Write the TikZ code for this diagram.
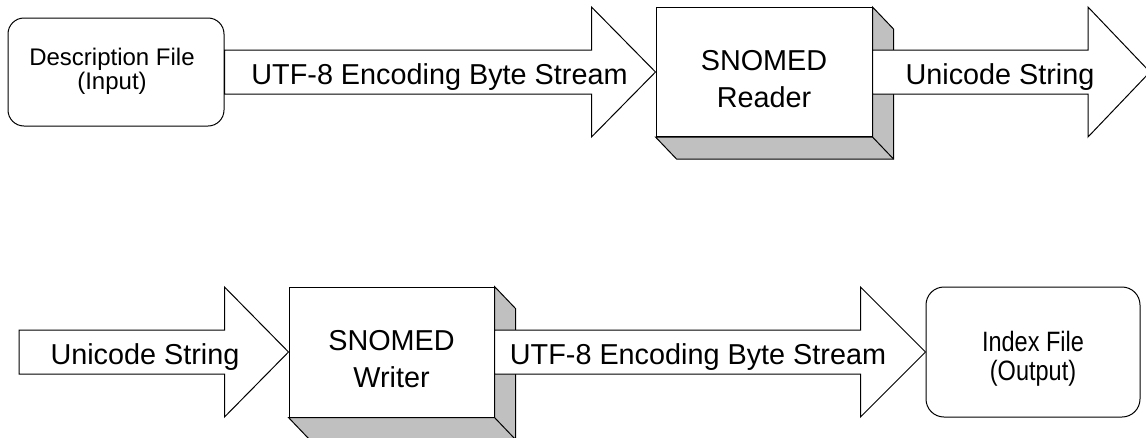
\documentclass[tikz,border=0pt]{standalone}
\usepackage{fontspec}
\setmainfont{Liberation Sans}
\newfontfamily\narrowfont{Liberation Sans}[FakeStretch=0.84]
\usetikzlibrary{calc}
\definecolor{shadegray}{RGB}{192,192,192}
\tikzset{
  outline/.style={draw=black, line width=1pt, fill=white, line join=miter},
  filebox/.style={outline, rounded corners=16pt, minimum width=216pt, minimum height=108pt, inner sep=0pt},
  procbox/.style={outline, minimum height=129pt, inner sep=0pt},
  shadeface/.style={draw=black, line width=1pt, fill=shadegray, line join=miter},
  bigtext/.style={font=\fontsize{28.8}{36.6}\selectfont, anchor=base, align=center, inner sep=0pt},
  desctext/.style={font=\fontsize{24}{23.6}\selectfont, anchor=base, align=center, inner sep=0pt},
  indextext/.style={font=\narrowfont\fontsize{28}{28.3}\selectfont, anchor=base, align=center, inner sep=0pt}
}
\newcommand\blockarrow[3]{%
  \draw[outline] ($(#1)+(0,-22)$) -- ($(#2)+(-#3,-22)$) -- ($(#2)+(-#3,-65)$) -- (#2)
    -- ($(#2)+(-#3,65)$) -- ($(#2)+(-#3,22)$) -- ($(#1)+(0,22)$) -- cycle;}
\newcommand\depthfaces[1]{%
  \draw[shadeface] (#1.north east) -- ++(21,22) -- ($(#1.south east)+(21,22)$)
    -- ($(#1.south west)+(21,22)$) -- (#1.south west) -- (#1.south east) -- cycle;
  \draw[line width=1pt] (#1.south east) -- ++(21,22);}
\begin{document}
\begin{tikzpicture}[x=1pt,y=-1pt]
\useasboundingbox[fill=white] (0,0) rectangle (1146,437);
% top row
\node[filebox] (desc) at (116,72) {};
\node[procbox, minimum width=216pt] (reader) at (764,72) {};
\depthfaces{reader}
\coordinate (toptip) at (1150,72);
\blockarrow{desc.east}{reader.west}{64}
\blockarrow{reader.east}{toptip}{62}
% bottom row
\node[procbox, minimum width=205pt, minimum height=130pt] (writer) at (391.5,352) {};
\depthfaces{writer}
\node[filebox, rounded corners=18pt, minimum width=214pt, minimum height=130pt] (index) at (1033,352) {};
\coordinate (botstart) at (19,352);
\blockarrow{botstart}{writer.west}{64}
\blockarrow{writer.east}{index.west}{65}
% texts (base anchor = baseline of the last line)
\node[desctext] (desctxt) at (112,89.5) {Description File\\(Input)};
\node[bigtext] (utftop) at (439.5,84) {UTF-8 Encoding Byte Stream};
\node[bigtext] (readertxt) at (764,107) {SNOMED\\Reader};
\node[bigtext] (unitop) at (1000,84) {Unicode String};
\node[bigtext] (unibot) at (145,364) {Unicode String};
\node[bigtext] (writertxt) at (391.5,387) {SNOMED\\Writer};
\node[bigtext] (utfbot) at (698,364.5) {UTF-8 Encoding Byte Stream};
\node[indextext] (indextxt) at (1033,380) {Index File\\(Output)};
\end{tikzpicture}
\end{document}
